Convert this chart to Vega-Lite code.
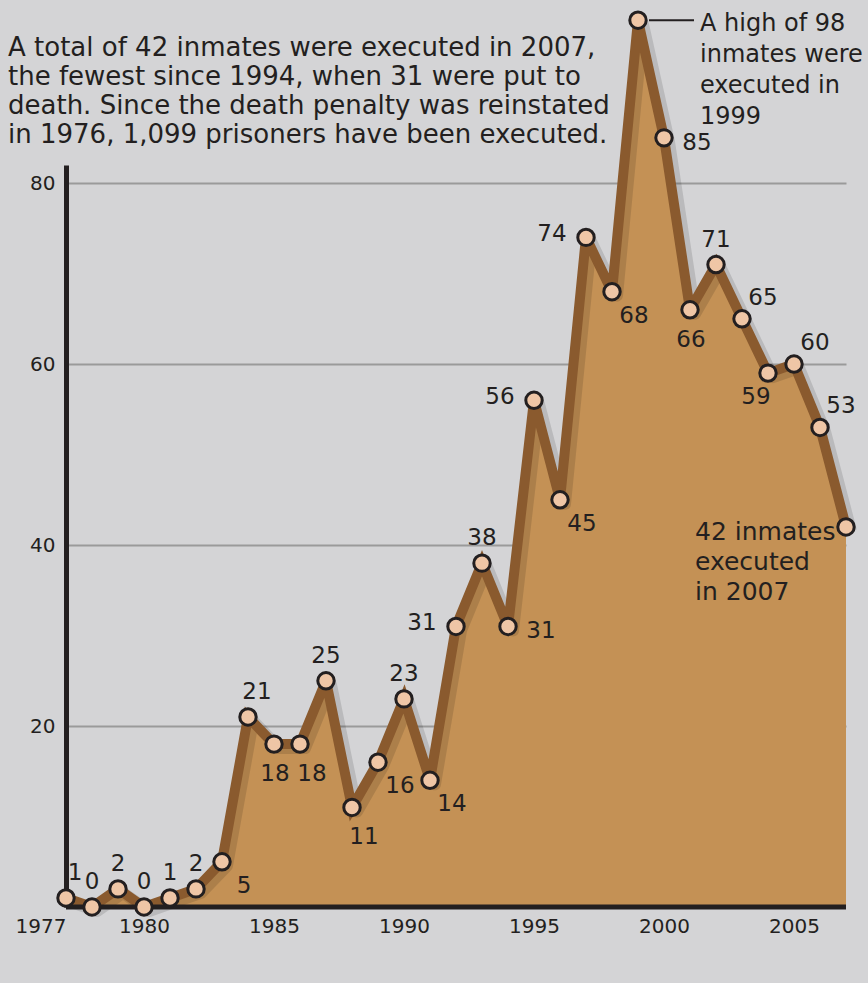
{
  "$schema": "https://vega.github.io/schema/vega-lite/v6.json",
  "width": 780,
  "height": 742,
  "autosize": {"type": "none"},
  "padding": {"left": 66, "top": 165, "right": 22, "bottom": 76},
  "background": "#d4d4d6",
  "config": {
    "view": {"stroke": null},
    "font": "DejaVu Sans",
    "text": {"font": "DejaVu Sans", "color": "#231f20"}
  },
  "title": {
    "text": [
      "A total of 42 inmates were executed in 2007,",
      "the fewest since 1994, when 31 were put to",
      "death. Since the death penalty was reinstated",
      "in 1976, 1,099 prisoners have been executed."
    ],
    "anchor": "start",
    "frame": "group",
    "dx": -58,
    "offset": -143,
    "font": "DejaVu Sans",
    "fontSize": 26,
    "fontWeight": "normal",
    "lineHeight": 29,
    "color": "#231f20"
  },
  "datasets": {
    "executions": [
      {"year": 1977, "executions": 1},
      {"year": 1978, "executions": 0},
      {"year": 1979, "executions": 2},
      {"year": 1980, "executions": 0},
      {"year": 1981, "executions": 1},
      {"year": 1982, "executions": 2},
      {"year": 1983, "executions": 5},
      {"year": 1984, "executions": 21},
      {"year": 1985, "executions": 18},
      {"year": 1986, "executions": 18},
      {"year": 1987, "executions": 25},
      {"year": 1988, "executions": 11},
      {"year": 1989, "executions": 16},
      {"year": 1990, "executions": 23},
      {"year": 1991, "executions": 14},
      {"year": 1992, "executions": 31},
      {"year": 1993, "executions": 38},
      {"year": 1994, "executions": 31},
      {"year": 1995, "executions": 56},
      {"year": 1996, "executions": 45},
      {"year": 1997, "executions": 74},
      {"year": 1998, "executions": 68},
      {"year": 1999, "executions": 98},
      {"year": 2000, "executions": 85},
      {"year": 2001, "executions": 66},
      {"year": 2002, "executions": 71},
      {"year": 2003, "executions": 65},
      {"year": 2004, "executions": 59},
      {"year": 2005, "executions": 60},
      {"year": 2006, "executions": 53},
      {"year": 2007, "executions": 42}
    ]
  },
  "data": {"name": "executions"},
  "layer": [
    {
      "mark": {"type": "area", "color": "#c49155"},
      "encoding": {
        "x": {
          "field": "year",
          "type": "quantitative",
          "scale": {"domain": [1977, 2007], "nice": false, "zero": false},
          "axis": {
            "title": null,
            "values": [1977, 1980, 1985, 1990, 1995, 2000, 2005],
            "format": "d",
            "domain": false,
            "ticks": false,
            "grid": false,
            "labelFont": "DejaVu Sans",
            "labelFontSize": 20,
            "labelColor": "#231f20",
            "labelPadding": 9,
            "labelFlush": false,
            "labelAlign": {"condition": {"test": "datum.value == 1977", "value": "right"}, "value": "center"}
          }
        },
        "y": {
          "field": "executions",
          "type": "quantitative",
          "scale": {"domain": [0, 82], "nice": false},
          "axis": {
            "title": null,
            "values": [20, 40, 60, 80],
            "domain": true,
            "domainColor": "#231f20",
            "domainWidth": 5,
            "ticks": false,
            "grid": true,
            "gridColor": "#9a9a9a",
            "gridWidth": 2,
            "labelFont": "DejaVu Sans",
            "labelFontSize": 20,
            "labelColor": "#231f20",
            "labelPadding": 11
          }
        }
      }
    },
    {
      "mark": {"type": "line", "color": "#000000", "opacity": 0.12, "strokeWidth": 12, "xOffset": 5, "yOffset": 4, "strokeJoin": "round"},
      "encoding": {
        "x": {"field": "year", "type": "quantitative"},
        "y": {"field": "executions", "type": "quantitative"}
      }
    },
    {
      "mark": {"type": "line", "color": "#8a5a2e", "strokeWidth": 10, "strokeMiterLimit": 3},
      "encoding": {
        "x": {"field": "year", "type": "quantitative"},
        "y": {"field": "executions", "type": "quantitative"}
      }
    },
    {
      "data": {"values": [{}]},
      "mark": {"type": "rule", "color": "#231f20", "strokeWidth": 5},
      "encoding": {"y": {"datum": 0}}
    },
    {
      "transform": [{"filter": {"field": "year", "equal": 1999}}],
      "mark": {"type": "rule", "color": "#231f20", "strokeWidth": 2, "xOffset": 11, "x2Offset": 56},
      "encoding": {
        "x": {"field": "year", "type": "quantitative"},
        "x2": {"field": "year"},
        "y": {"field": "executions", "type": "quantitative"}
      }
    },
    {
      "mark": {"type": "point", "filled": true, "fill": "#efc6a6", "stroke": "#231f20", "strokeWidth": 3, "size": 270, "opacity": 1},
      "encoding": {
        "x": {"field": "year", "type": "quantitative"},
        "y": {"field": "executions", "type": "quantitative"}
      }
    },
    {
      "transform": [{"filter": {"field": "year", "oneOf": [1978, 1979, 1980, 1981, 1982, 1987, 1990, 1993, 2002]}}],
      "mark": {"type": "text", "fontSize": 23, "dx": 0, "dy": -25},
      "encoding": {
        "x": {"field": "year", "type": "quantitative"},
        "y": {"field": "executions", "type": "quantitative"},
        "text": {"field": "executions", "type": "quantitative"}
      }
    },
    {
      "transform": [{"filter": {"field": "year", "oneOf": [1977, 1984]}}],
      "mark": {"type": "text", "fontSize": 23, "dx": 9, "dy": -25},
      "encoding": {
        "x": {"field": "year", "type": "quantitative"},
        "y": {"field": "executions", "type": "quantitative"},
        "text": {"field": "executions", "type": "quantitative"}
      }
    },
    {
      "transform": [{"filter": {"field": "year", "oneOf": [2003, 2005, 2006]}}],
      "mark": {"type": "text", "fontSize": 23, "dx": 21, "dy": -21},
      "encoding": {
        "x": {"field": "year", "type": "quantitative"},
        "y": {"field": "executions", "type": "quantitative"},
        "text": {"field": "executions", "type": "quantitative"}
      }
    },
    {
      "transform": [{"filter": {"field": "year", "oneOf": [1985, 2001]}}],
      "mark": {"type": "text", "fontSize": 23, "dx": 1, "dy": 30},
      "encoding": {
        "x": {"field": "year", "type": "quantitative"},
        "y": {"field": "executions", "type": "quantitative"},
        "text": {"field": "executions", "type": "quantitative"}
      }
    },
    {
      "transform": [{"filter": {"field": "year", "oneOf": [1986, 1988]}}],
      "mark": {"type": "text", "fontSize": 23, "dx": 12, "dy": 30},
      "encoding": {
        "x": {"field": "year", "type": "quantitative"},
        "y": {"field": "executions", "type": "quantitative"},
        "text": {"field": "executions", "type": "quantitative"}
      }
    },
    {
      "transform": [{"filter": {"field": "year", "oneOf": [1983, 1989, 1991, 1996, 1998]}}],
      "mark": {"type": "text", "fontSize": 23, "dx": 22, "dy": 24},
      "encoding": {
        "x": {"field": "year", "type": "quantitative"},
        "y": {"field": "executions", "type": "quantitative"},
        "text": {"field": "executions", "type": "quantitative"}
      }
    },
    {
      "transform": [{"filter": {"field": "year", "equal": 2004}}],
      "mark": {"type": "text", "fontSize": 23, "dx": -12, "dy": 24},
      "encoding": {
        "x": {"field": "year", "type": "quantitative"},
        "y": {"field": "executions", "type": "quantitative"},
        "text": {"field": "executions", "type": "quantitative"}
      }
    },
    {
      "transform": [{"filter": {"field": "year", "oneOf": [1992, 1995, 1997]}}],
      "mark": {"type": "text", "fontSize": 23, "dx": -34, "dy": -3},
      "encoding": {
        "x": {"field": "year", "type": "quantitative"},
        "y": {"field": "executions", "type": "quantitative"},
        "text": {"field": "executions", "type": "quantitative"}
      }
    },
    {
      "transform": [{"filter": {"field": "year", "oneOf": [1994, 2000]}}],
      "mark": {"type": "text", "fontSize": 23, "dx": 33, "dy": 5},
      "encoding": {
        "x": {"field": "year", "type": "quantitative"},
        "y": {"field": "executions", "type": "quantitative"},
        "text": {"field": "executions", "type": "quantitative"}
      }
    },
    {
      "transform": [{"filter": {"field": "year", "equal": 1999}}],
      "mark": {"type": "text", "fontSize": 24, "align": "left", "baseline": "top", "dx": 62, "dy": -8, "lineHeight": 31},
      "encoding": {
        "x": {"field": "year", "type": "quantitative"},
        "y": {"field": "executions", "type": "quantitative"},
        "text": {"value": ["A high of 98", "inmates were", "executed in", "1999"]}
      }
    },
    {
      "transform": [{"filter": {"field": "year", "equal": 2007}}],
      "mark": {"type": "text", "fontSize": 25, "align": "left", "baseline": "top", "dx": -151, "dy": -7, "lineHeight": 30},
      "encoding": {
        "x": {"field": "year", "type": "quantitative"},
        "y": {"field": "executions", "type": "quantitative"},
        "text": {"value": ["42 inmates", "executed", "in 2007"]}
      }
    }
  ]
}
